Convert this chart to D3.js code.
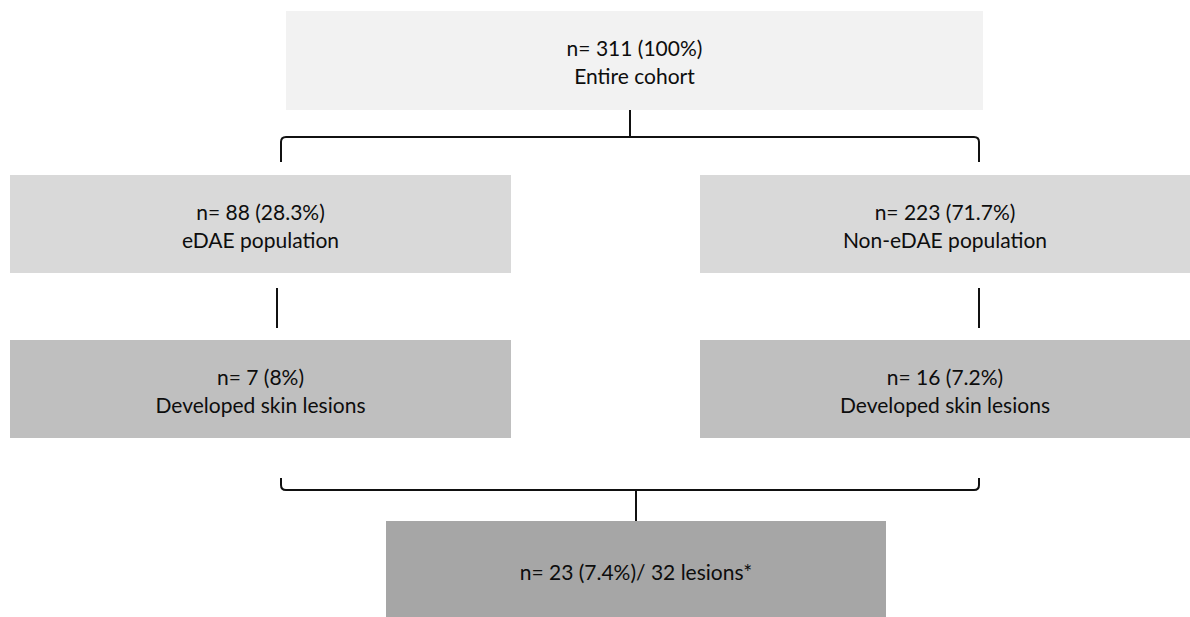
<!DOCTYPE html>
<html>
<head>
<meta charset="utf-8">
<script src="https://cdn.jsdelivr.net/npm/d3@7"></script>
<style>
  html, body { margin: 0; padding: 0; background: #fff; }
  svg { display: block; }
  text { font-family: Lato, "Open Sans", sans-serif; font-size: 21px; fill: #0d0d0d; }
</style>
</head>
<body>
<div id="chart"></div>
<script>
// data
const counts = [311, 88, 223, 7, 16, 23];
const percents = ["100%", "28.3%", "71.7%", "8%", "7.2%", "7.4%"];
const labels = ["Entire cohort", "eDAE population", "Non-eDAE population",
                "Developed skin lesions", "Developed skin lesions", null];
const lesions = 32;

const width = 1190, height = 617;

const svg = d3.select("#chart")
    .append("svg")
    .attr("width", width)
    .attr("height", height);

// box layout
const boxes = [
    { x: 286, y: 11,  w: 697, h: 99, fill: "#f2f2f2" },
    { x: 10,  y: 175, w: 501, h: 98, fill: "#d9d9d9" },
    { x: 700, y: 175, w: 490, h: 98, fill: "#d9d9d9" },
    { x: 10,  y: 340, w: 501, h: 98, fill: "#bfbfbf" },
    { x: 700, y: 340, w: 490, h: 98, fill: "#bfbfbf" },
    { x: 386, y: 521, w: 500, h: 96, fill: "#a6a6a6" }
];

const nodes = boxes.map((b, i) => Object.assign({}, b, {
    line1: i === 5
        ? `n= ${counts[i]} (${percents[i]})/ ${lesions} lesions*`
        : `n= ${counts[i]} (${percents[i]})`,
    line2: labels[i]
}));

// connectors
const lines = svg.append("g")
    .attr("fill", "none")
    .attr("stroke", "#111")
    .attr("stroke-width", 2);

const r = 5;
// top bracket
lines.append("path").attr("d", `M630,110 V137`);
lines.append("path").attr("d",
    `M281,162 V${137 + r} Q281,137 ${281 + r},137 H${979 - r} Q979,137 979,${137 + r} V162`);
// vertical links
lines.append("path").attr("d", "M277,288 V328");
lines.append("path").attr("d", "M979,288 V328");
// bottom bracket
lines.append("path").attr("d",
    `M281,478 V${490 - r} Q281,490 ${281 + r},490 H${979 - r} Q979,490 979,${490 - r} V478`);
lines.append("path").attr("d", "M636,490 V521");

// boxes
const g = svg.selectAll("g.node")
    .data(nodes)
    .enter()
    .append("g")
    .attr("class", "node");

g.append("rect")
    .attr("x", d => d.x)
    .attr("y", d => d.y)
    .attr("width", d => d.w)
    .attr("height", d => d.h)
    .attr("fill", d => d.fill);

g.append("text")
    .attr("x", d => d.x + d.w / 2)
    .attr("y", d => d.line2 ? d.y + d.h / 2 - 13 : d.y + d.h / 2 + 2)
    .attr("text-anchor", "middle")
    .attr("dominant-baseline", "central")
    .text(d => d.line1);

g.filter(d => d.line2)
    .append("text")
    .attr("x", d => d.x + d.w / 2)
    .attr("y", d => d.y + d.h / 2 + 15)
    .attr("text-anchor", "middle")
    .attr("dominant-baseline", "central")
    .text(d => d.line2);
</script>
</body>
</html>
